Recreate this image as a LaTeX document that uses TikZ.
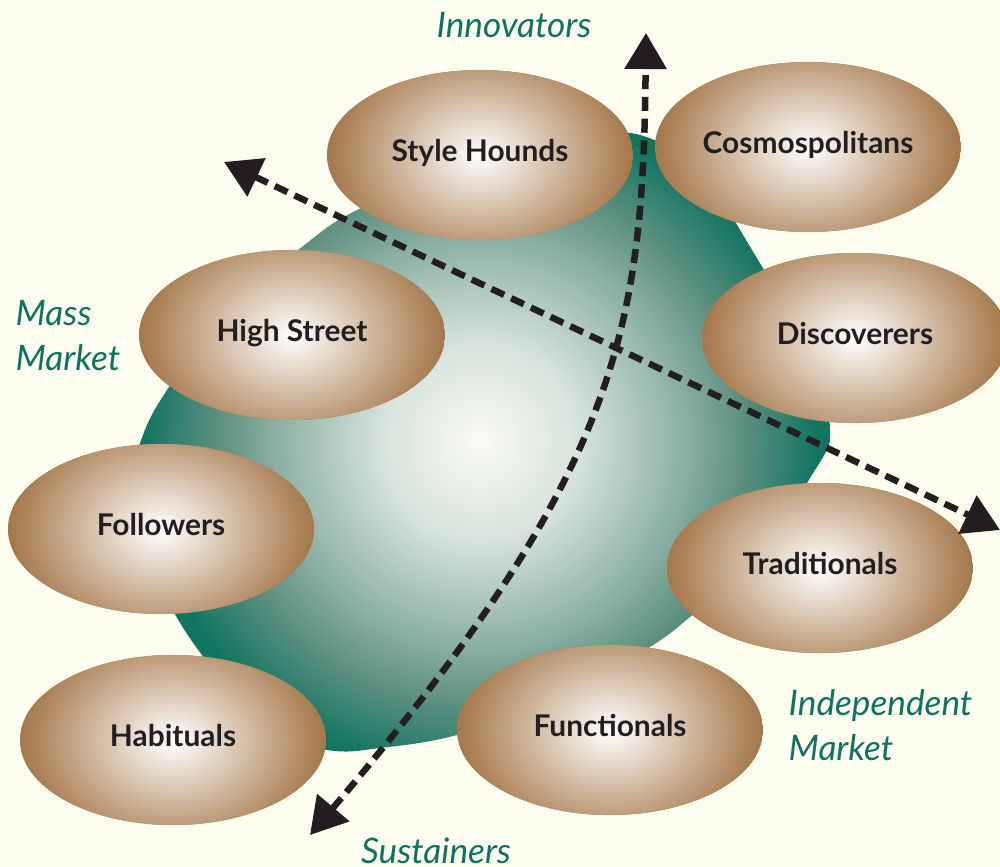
\documentclass[tikz,border=0pt]{standalone}
\usepackage{fontspec}
\setmainfont{Lato}
\usetikzlibrary{arrows.meta,shapes.geometric}

\definecolor{paper}{HTML}{FDFDEF}
\definecolor{podbrown}{HTML}{A6794C}
\definecolor{labelgreen}{HTML}{0F7360}
\definecolor{ink}{HTML}{231F20}
\definecolor{g0}{HTML}{FAFBF4}
\definecolor{g1}{HTML}{D6E3DC}
\definecolor{g2}{HTML}{8DB0A4}
\definecolor{g3}{HTML}{5E9080}
\definecolor{g4}{HTML}{127561}

% green globe: pale centre fading to deep teal at the rim
\pgfdeclareradialshading{globe}{\pgfpoint{0bp}{0bp}}{%
  color(0bp)=(g0); color(7bp)=(g1); color(14.5bp)=(g2);
  color(18.7bp)=(g3); color(24bp)=(g4); color(25bp)=(g4); color(50bp)=(g4)}

\tikzset{
  pod/.style={ellipse, minimum width=3.06cm, minimum height=1.7cm, inner sep=0pt,
    text height=6.2pt, text depth=2.6pt,
    font=\bfseries\fontsize{8.5}{10}\selectfont, text=ink,
    path picture={
      \fill[podbrown] (path picture bounding box.south west) rectangle (path picture bounding box.north east);
      \shade[inner color=white, outer color=podbrown] (path picture bounding box.center)
        ellipse [x radius=1.5cm, y radius=1.15cm];
    }},
  grouplabel/.style={font=\itshape\fontsize{10}{12.8}\selectfont, text=labelgreen, align=left, inner sep=0pt},
  axis/.style={draw=ink, line width=1.85pt, dash pattern=on 4pt off 2.2pt,
    {Triangle[length=0.36cm,width=0.41cm]}-{Triangle[length=0.36cm,width=0.41cm]}}
}

\begin{document}
\begin{tikzpicture}[x=0.01cm, y=-0.01cm]
  % page
  \fill[paper] (0,0) rectangle (1000,867);
  \useasboundingbox (0,0) rectangle (1000,867);

  % central globe
  \begin{scope}
    \clip plot[smooth cycle, tension=0.6] coordinates {
      (140,443) (167,390) (230,305) (298,250) (357,210) (480,160) (580,138)
      (640,135) (700,172) (755,255) (808,350) (832,427) (807,483) (755,560)
      (690,617) (650,647) (560,700) (457,735) (380,748) (327,750) (240,728)
      (170,684) (140,653) (122,613) (116,530)};
    \shade[shading=globe] (480,442) circle (3.5cm);
  \end{scope}

  % segments
  \node[pod] (hounds)  at (480,155) {Style Hounds};
  \node[pod] (cosmo)   at (808,147) {Cosmospolitans};
  \node[pod] (high)    at (292,335) {High Street};
  \node[pod] (disc)    at (855,338) {Discoverers};
  \node[pod] (follow)  at (161,529) {Followers};
  \node[pod] (trad)    at (820,568) {Traditionals};
  \node[pod] (habit)   at (173,740) {Habituals};
  \node[pod] (func)    at (610,730) {Functionals};

  % axis labels
  \node[grouplabel] (innov) at (514,25) {Innovators};
  \node[grouplabel, anchor=west] (mass) at (15,336) {Mass\\Market};
  \node[grouplabel, anchor=west] (indep) at (788,725) {Independent\\Market};
  \node[grouplabel] (sust) at (436,851) {Sustainers};

  % axes
  \coordinate (innovTip) at (646,33);
  \coordinate (sustTip) at (310,835);
  \coordinate (massTip) at (224,162);
  \coordinate (indepTip) at (1000,530);
  \draw[axis] (sustTip) .. controls (620,470) and (643,330) .. (innovTip);
  \draw[axis] (massTip) -- (indepTip);
\end{tikzpicture}
\end{document}
